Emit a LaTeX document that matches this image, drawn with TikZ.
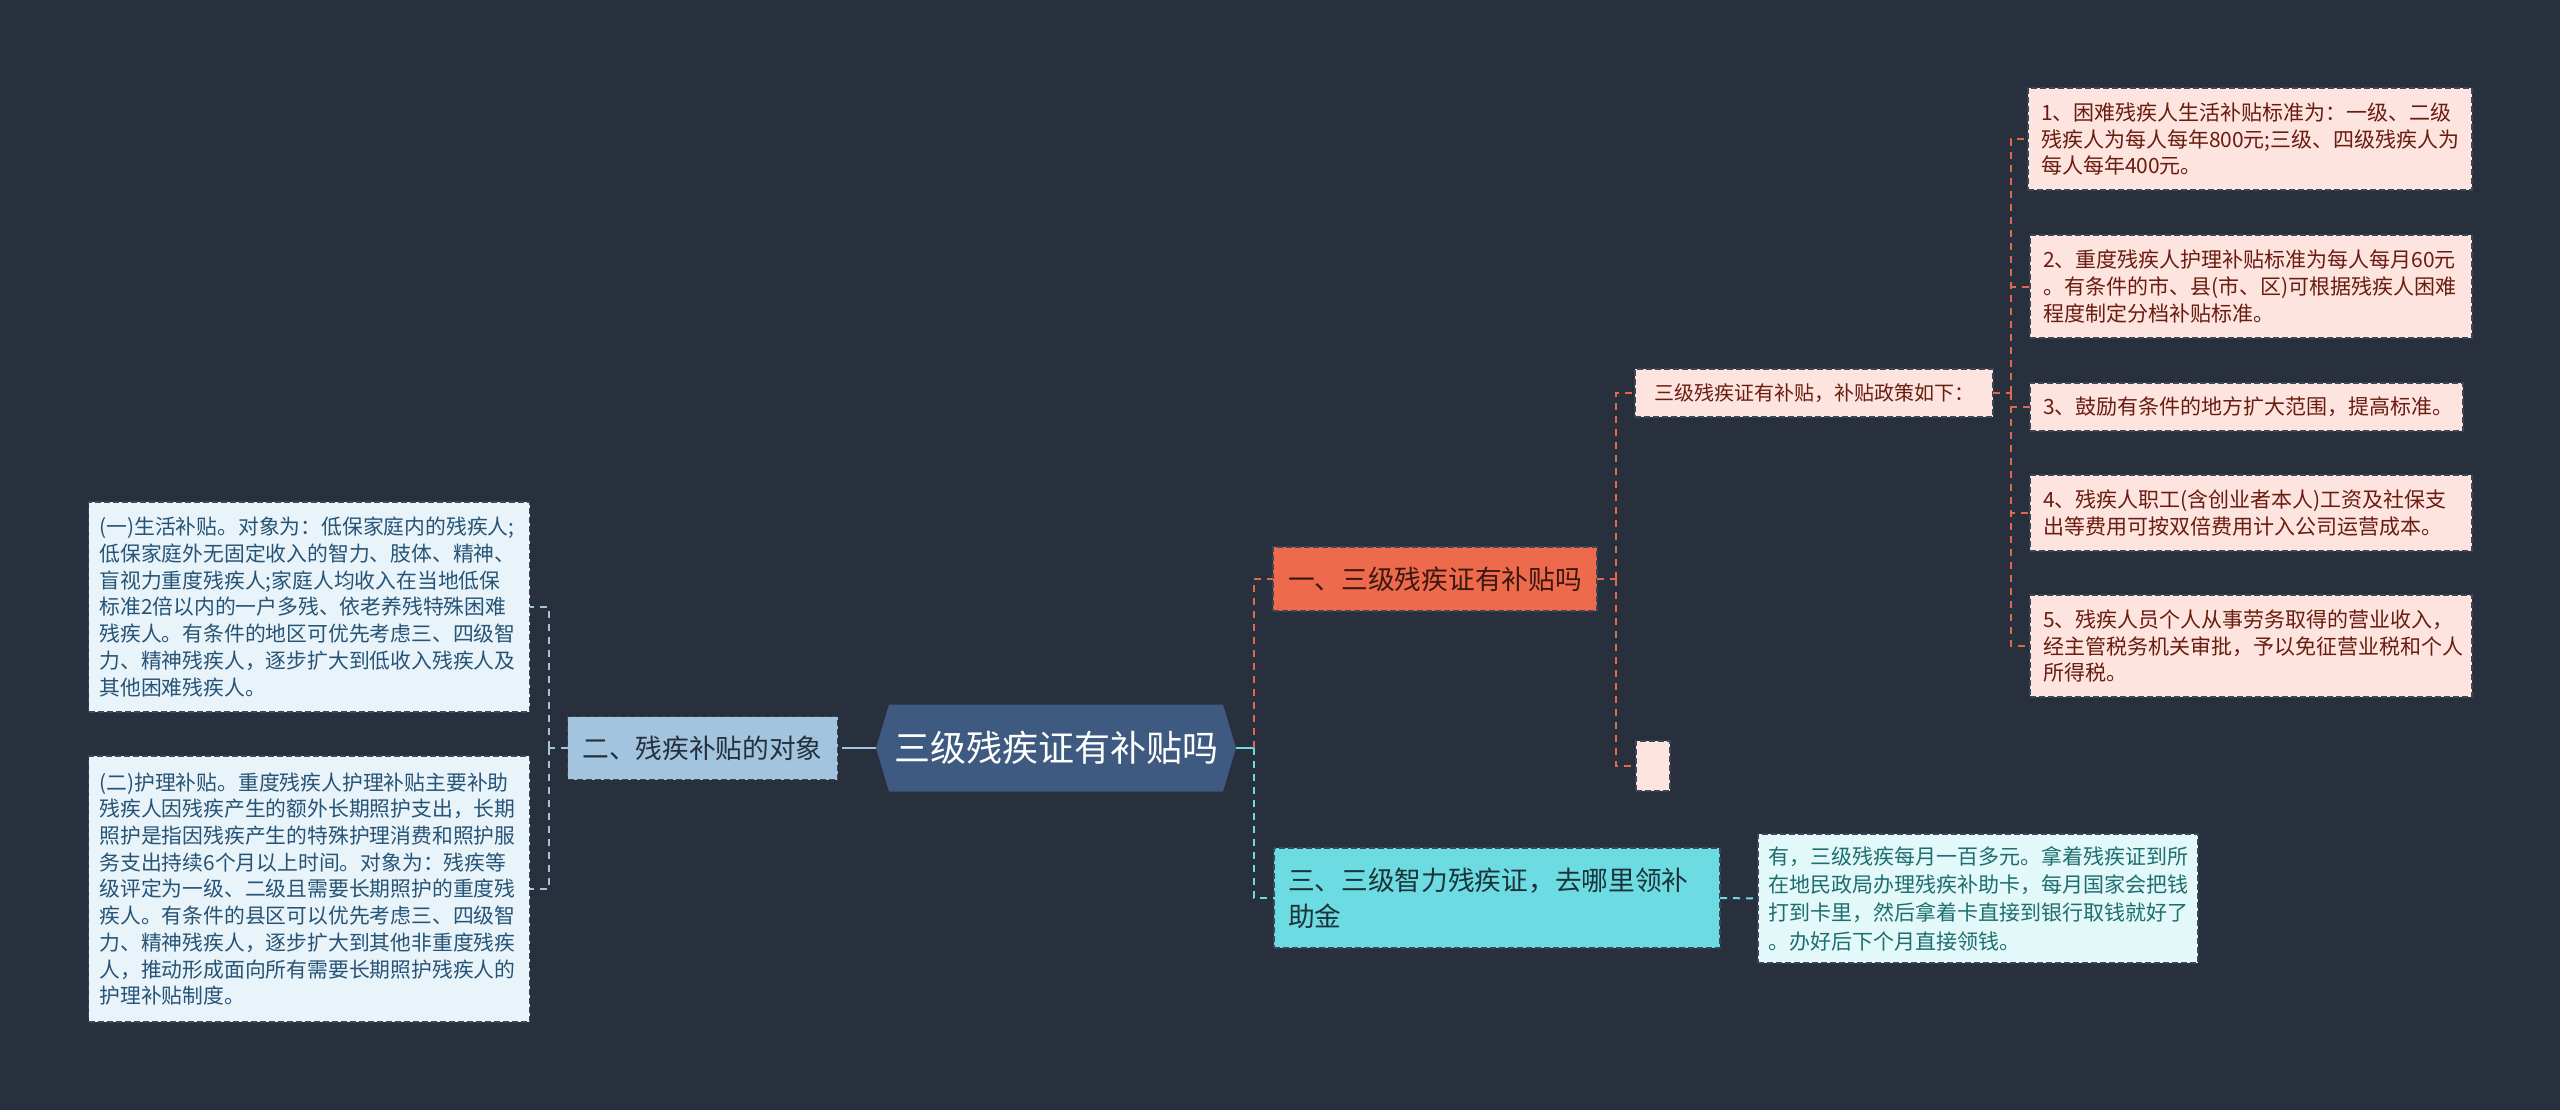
\documentclass[tikz,border=0pt]{standalone}
\usepackage{fontspec}
\setmainfont{Noto Sans CJK SC}
\usetikzlibrary{calc}
\pgfdeclarelayer{background}
\pgfdeclarelayer{backdrop}
\pgfsetlayers{backdrop,background,main}
\definecolor{bg}{HTML}{28303E}
\definecolor{hexfill}{HTML}{3E5A80}
\definecolor{bluebox}{HTML}{A3C4DE}
\definecolor{bluedetail}{HTML}{E9F3FA}
\definecolor{bluetext}{HTML}{265476}
\definecolor{orangebox}{HTML}{EE6A4C}
\definecolor{orangetext}{HTML}{3A1810}
\definecolor{cyanbox}{HTML}{6CDCE2}
\definecolor{cyantext}{HTML}{1B3338}
\definecolor{pinkbox}{HTML}{FDE4DE}
\definecolor{pinktext}{HTML}{6A1C10}
\definecolor{ansbox}{HTML}{E2F8F9}
\definecolor{anstext}{HTML}{1E6E70}
\definecolor{boxline}{HTML}{3C4656}
\definecolor{darktext}{HTML}{24303C}
\definecolor{conorange}{HTML}{E0684C}
\tikzset{
  conn/.style={line width=2pt},
  dsh/.style={dash pattern=on 7pt off 6pt},
  boxbase/.style={rectangle, draw=boxline, line width=1.4pt, dash pattern=on 6pt off 3pt, inner ysep=0pt, outer sep=0pt},
  detailblue/.style={boxbase, fill=bluedetail, text=bluetext, align=left, inner xsep=11pt, font=\fontsize{20.8}{26.7}\selectfont},
  detailpink/.style={boxbase, fill=pinkbox, text=pinktext, align=left, inner xsep=13pt, font=\fontsize{21}{26.7}\selectfont},
  detailans/.style={boxbase, fill=ansbox, text=anstext, align=left, inner xsep=10pt, font=\fontsize{21}{28.3}\selectfont},
  levelone/.style={boxbase, font=\fontsize{26.7}{36}\selectfont}
}
\begin{document}
\begin{tikzpicture}[x=1pt,y=-1pt]
\begin{pgfonlayer}{backdrop}
\fill[bg] (0,0) rectangle (2560,1110);
\end{pgfonlayer}
\useasboundingbox (0,0) rectangle (2560,1110);

% root
\node[inner sep=0pt, outer sep=0pt, minimum width=360pt, minimum height=87pt, text=white, font=\fontsize{36}{40}\selectfont] (root) at (1056,748) {三级残疾证有补贴吗};
\begin{pgfonlayer}{background}
\fill[hexfill] (root.west) -- ([xshift=13pt]root.north west) -- ([xshift=-13pt]root.north east) -- (root.east) -- ([xshift=-13pt]root.south east) -- ([xshift=13pt]root.south west) -- cycle;
\end{pgfonlayer}

% left branch
\node[levelone, fill=bluebox, text=darktext, minimum width=270pt, minimum height=63pt, inner xsep=0pt] (n2) at (702.5,748) {二、残疾补贴的对象};
\node[detailblue, minimum width=441pt, minimum height=210pt, text width=419pt] (L1) at (309,607) {(一)生活补贴。对象为：低保家庭内的残疾人;\\低保家庭外无固定收入的智力、肢体、精神、\\盲视力重度残疾人;家庭人均收入在当地低保\\标准2倍以内的一户多残、依老养残特殊困难\\残疾人。有条件的地区可优先考虑三、四级智\\力、精神残疾人，逐步扩大到低收入残疾人及\\其他困难残疾人。};
\node[detailblue, minimum width=441pt, minimum height=266pt, text width=419pt] (L2) at (309,889) {(二)护理补贴。重度残疾人护理补贴主要补助\\残疾人因残疾产生的额外长期照护支出，长期\\照护是指因残疾产生的特殊护理消费和照护服\\务支出持续6个月以上时间。对象为：残疾等\\级评定为一级、二级且需要长期照护的重度残\\疾人。有条件的县区可以优先考虑三、四级智\\力、精神残疾人，逐步扩大到其他非重度残疾\\人，推动形成面向所有需要长期照护残疾人的\\护理补贴制度。};

% right level one
\node[levelone, fill=orangebox, text=orangetext, minimum width=324pt, minimum height=64pt, inner xsep=0pt] (n1) at (1435,579) {一、三级残疾证有补贴吗};
\node[levelone, fill=cyanbox, text=cyantext, minimum width=446pt, minimum height=100pt, inner xsep=14pt, text width=418pt, align=left] (n3) at (1497,898) {三、三级智力残疾证，去哪里领补\\助金};
\node[detailans, minimum width=440pt, minimum height=129pt, text width=420pt] (ans) at (1978,898.5) {有，三级残疾每月一百多元。拿着残疾证到所\\在地民政局办理残疾补助卡，每月国家会把钱\\打到卡里，然后拿着卡直接到银行取钱就好了\\。办好后下个月直接领钱。};

% level two under n1
\node[boxbase, fill=pinkbox, text=pinktext, minimum width=358pt, minimum height=48pt, inner xsep=0pt, font=\fontsize{20}{24}\selectfont] (pol) at (1814,393) {三级残疾证有补贴，补贴政策如下：};
\node[boxbase, fill=pinkbox, minimum width=34pt, minimum height=50pt, inner xsep=0pt] (emp) at (1653,766) {};

% level three
\node[detailpink, minimum width=444pt, minimum height=102pt, text width=418pt] (r1) at (2250,139) {1、困难残疾人生活补贴标准为：一级、二级\\残疾人为每人每年800元;三级、四级残疾人为\\每人每年400元。};
\node[detailpink, minimum width=442pt, minimum height=103pt, text width=416pt] (r2) at (2251,286.5) {2、重度残疾人护理补贴标准为每人每月60元\\。有条件的市、县(市、区)可根据残疾人困难\\程度制定分档补贴标准。};
\node[detailpink, minimum width=433pt, minimum height=48pt, text width=407pt] (r3) at (2246.5,407) {3、鼓励有条件的地方扩大范围，提高标准。};
\node[detailpink, minimum width=442pt, minimum height=76pt, text width=416pt] (r4) at (2251,513) {4、残疾人职工(含创业者本人)工资及社保支\\出等费用可按双倍费用计入公司运营成本。};
\node[detailpink, minimum width=442pt, minimum height=102pt, text width=416pt] (r5) at (2251,646) {5、残疾人员个人从事劳务取得的营业收入，\\经主管税务机关审批，予以免征营业税和个人\\所得税。};

% connectors: left
\coordinate (jl) at (849,748);
\coordinate (tl) at (549,748);
\draw[conn, bluebox] (root.west) -- (jl);
\draw[conn, bluebox, dsh] (jl) -- (n2.east);
\draw[conn, bluebox, dsh] (n2.west) -- (tl);
\draw[conn, bluebox, dsh] (tl) |- (L1.east);
\draw[conn, bluebox, dsh] (tl) |- (L2.east);

% connectors: right
\coordinate (jr) at (1254,748);
\draw[conn, cyanbox] (root.east) -- (jr);
\draw[conn, conorange, dsh] (jr) |- (n1.west);
\draw[conn, cyanbox, dsh] (jr) |- (n3.west);
\draw[conn, cyanbox, dsh] (n3.east) -- (ans.west);

\coordinate (t1) at (1616,579);
\draw[conn, conorange, dsh] (n1.east) -- (t1);
\draw[conn, conorange, dsh] (t1) |- (pol.west);
\draw[conn, conorange, dsh] (t1) |- (emp.west);

\coordinate (t2) at (2011,393);
\draw[conn, conorange, dsh] (pol.east) -- (t2);
\draw[conn, conorange, dsh] (t2) |- (r1.west);
\draw[conn, conorange, dsh] (t2) |- (r2.west);
\draw[conn, conorange, dsh] (t2) |- (r3.west);
\draw[conn, conorange, dsh] (t2) |- (r4.west);
\draw[conn, conorange, dsh] (t2) |- (r5.west);
\end{tikzpicture}
\end{document}
